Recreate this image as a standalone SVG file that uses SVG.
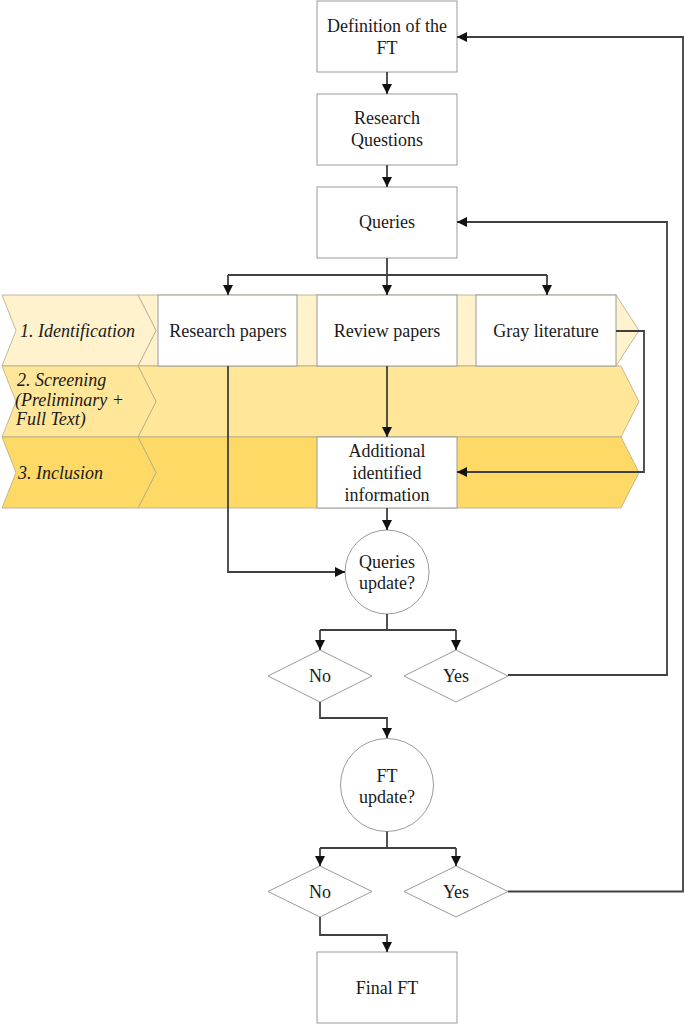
<svg xmlns="http://www.w3.org/2000/svg" width="685" height="1025" viewBox="0 0 685 1025">
<defs>
<style>
.box{fill:#ffffff;stroke:#9a9a9a;stroke-width:1}
.chev{stroke:#b3a987;stroke-width:0.8}
.r1{fill:#fff2cc}.r2{fill:#ffe699}.r3{fill:#ffd966}
.t{font-size:18px;fill:#1a1a1a;text-anchor:middle}
.ti{font-size:18px;font-style:italic;fill:#1a1a1a}
.c{fill:none;stroke:#404040;stroke-width:1.8}
.ca{fill:none;stroke:#404040;stroke-width:1.8;marker-end:url(#ah)}
</style>
<marker id="ah" markerUnits="userSpaceOnUse" markerWidth="10" markerHeight="10" refX="10" refY="5" orient="auto">
<path d="M0,0 L10,5 L0,10 z" fill="#111"/>
</marker>
</defs>
<rect width="685" height="1025" fill="#ffffff"/>
<g font-family="Liberation Serif, Tinos, DejaVu Serif, serif">
<g id="lanes">
<polygon class="chev r1" points="138,295 616,295 639,330.5 616,366 138,366 156,330.5"/>
<polygon class="chev r2" points="138,366 621,366 639,401.5 621,437 138,437 156,401.5"/>
<polygon class="chev r3" points="138,437 621,437 639,472.5 621,508 138,508 156,472.5"/>
</g>
<g id="lane-identification">
<polygon class="chev r1" points="2,295 138,295 156,330.5 138,366 2,366 16,330.5"/>
<text class="ti" x="20" y="337">1. Identification</text>
</g>
<g id="lane-screening">
<polygon class="chev r2" points="2,366 138,366 156,401.5 138,437 2,437 16,401.5"/>
<text class="ti" x="17" y="386">2. Screening</text>
<text class="ti" x="15" y="405.5">(Preliminary +</text>
<text class="ti" x="16" y="425">Full Text)</text>
</g>
<g id="lane-inclusion">
<polygon class="chev r3" points="2,437 138,437 156,472.5 138,508 2,508 16,472.5"/>
<text class="ti" x="18" y="479">3. Inclusion</text>
</g>

<g id="definition">
<rect class="box" x="317" y="1" width="140" height="71"/>
<text class="t" x="387" y="31.5">Definition of the</text>
<text class="t" x="387" y="53.5">FT</text>
</g>
<g id="research-questions">
<rect class="box" x="317" y="94" width="140" height="71"/>
<text class="t" x="387" y="124">Research</text>
<text class="t" x="387" y="146">Questions</text>
</g>
<g id="queries">
<rect class="box" x="317" y="187" width="140" height="71"/>
<text class="t" x="387" y="228">Queries</text>
</g>
<g id="research-papers">
<rect class="box" x="158" y="295" width="139" height="71"/>
<text class="t" x="228" y="337">Research papers</text>
</g>
<g id="review-papers">
<rect class="box" x="317" y="295" width="140" height="71"/>
<text class="t" x="387" y="337">Review papers</text>
</g>
<g id="gray-literature">
<rect class="box" x="476" y="295" width="140" height="71"/>
<text class="t" x="546" y="337">Gray literature</text>
</g>
<g id="additional-info">
<rect class="box" x="317" y="437" width="140" height="71"/>
<text class="t" x="387" y="457">Additional</text>
<text class="t" x="387" y="479">identified</text>
<text class="t" x="387" y="500.5">information</text>
</g>
<g id="queries-update">
<circle class="box" cx="387" cy="572" r="42"/>
<text class="t" x="387" y="567.5">Queries</text>
<text class="t" x="387" y="588.5">update?</text>
</g>
<g id="no1">
<polygon class="box" points="268,676 320,650 372,676 320,702"/>
<text class="t" x="320" y="682">No</text>
</g>
<g id="yes1">
<polygon class="box" points="404,676 456,650 508,676 456,702"/>
<text class="t" x="456" y="682">Yes</text>
</g>
<g id="ft-update">
<circle class="box" cx="387" cy="785" r="46.5"/>
<text class="t" x="387" y="782">FT</text>
<text class="t" x="387" y="803">update?</text>
</g>
<g id="no2">
<polygon class="box" points="268,891.5 320,866 372,891.5 320,917"/>
<text class="t" x="320" y="897.5">No</text>
</g>
<g id="yes2">
<polygon class="box" points="404,891.5 456,866 508,891.5 456,917"/>
<text class="t" x="456" y="897.5">Yes</text>
</g>
<g id="final-ft">
<rect class="box" x="317" y="952" width="140" height="71"/>
<text class="t" x="387" y="994">Final FT</text>
</g>
</g>
<g id="connectors">
<path class="ca" d="M387,72 V94"/>
<path class="ca" d="M387,165 V187"/>
<path class="c" d="M387,258 V275 M228,275 H547"/>
<path class="ca" d="M228,275 V295"/>
<path class="ca" d="M387,275 V295"/>
<path class="ca" d="M547,275 V295"/>
<path class="ca" d="M228,366 V572 H345"/>
<path class="ca" d="M387,366 V437"/>
<path class="ca" d="M616,331 H644 V472 H457"/>
<path class="ca" d="M387,508 V530"/>
<path class="c" d="M387,614 V630 M320,630 H456"/>
<path class="ca" d="M320,630 V650"/>
<path class="ca" d="M456,630 V650"/>
<path class="ca" d="M508,675 H667 V222 H457"/>
<path class="ca" d="M320,702 V718 H387 V738"/>
<path class="c" d="M387,831.5 V848 M320,848 H456"/>
<path class="ca" d="M320,848 V866"/>
<path class="ca" d="M456,848 V866"/>
<path class="ca" d="M508,891.5 H683 V37 H457"/>
<path class="ca" d="M320,917 V935 H387 V952"/>
</g>
</svg>
